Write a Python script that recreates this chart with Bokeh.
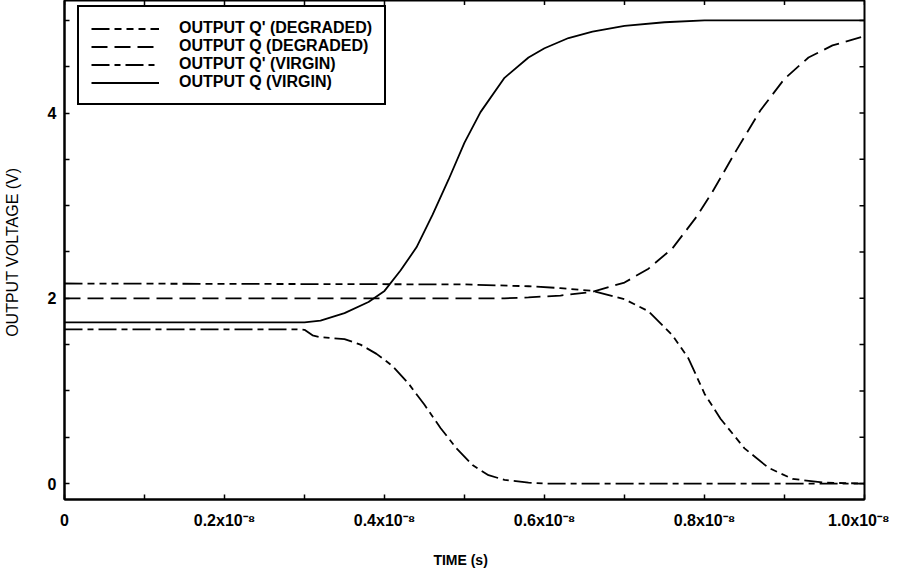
import math
from bokeh.plotting import figure
from bokeh.models import FixedTicker, Legend, LegendItem, Range1d
from bokeh.embed import file_html
from bokeh.resources import INLINE

# ---- data (time in seconds, voltage in volts) ----
t_q_virgin = [0, 0.30e-8, 0.32e-8, 0.35e-8, 0.38e-8, 0.40e-8, 0.42e-8, 0.44e-8, 0.46e-8,
              0.48e-8, 0.50e-8, 0.52e-8, 0.55e-8, 0.58e-8, 0.60e-8, 0.63e-8, 0.66e-8,
              0.70e-8, 0.75e-8, 0.80e-8, 0.90e-8, 1.00e-8]
v_q_virgin = [1.74, 1.74, 1.76, 1.84, 1.96, 2.08, 2.30, 2.55, 2.90, 3.28, 3.68, 4.01,
              4.38, 4.60, 4.70, 4.81, 4.88, 4.94, 4.98, 5.00, 5.00, 5.00]

t_qp_virgin = [0, 0.29e-8, 0.30e-8, 0.31e-8, 0.32e-8, 0.35e-8, 0.37e-8, 0.39e-8, 0.41e-8,
               0.43e-8, 0.45e-8, 0.47e-8, 0.49e-8, 0.51e-8, 0.53e-8, 0.55e-8, 0.58e-8,
               0.60e-8, 1.00e-8]
v_qp_virgin = [1.665, 1.665, 1.66, 1.60, 1.58, 1.56, 1.50, 1.40, 1.27, 1.08, 0.85, 0.60,
               0.38, 0.20, 0.09, 0.04, 0.01, 0.0, 0.0]

t_q_degr = [0, 0.55e-8, 0.58e-8, 0.62e-8, 0.66e-8, 0.70e-8, 0.73e-8, 0.76e-8, 0.79e-8,
            0.81e-8, 0.84e-8, 0.87e-8, 0.90e-8, 0.93e-8, 0.96e-8, 1.00e-8]
v_q_degr = [2.0, 2.0, 2.01, 2.03, 2.07, 2.17, 2.32, 2.54, 2.88, 3.15, 3.60, 4.03, 4.37,
            4.60, 4.73, 4.83]

t_qp_degr = [0, 0.50e-8, 0.58e-8, 0.62e-8, 0.66e-8, 0.70e-8, 0.73e-8, 0.76e-8, 0.78e-8,
             0.80e-8, 0.82e-8, 0.85e-8, 0.88e-8, 0.91e-8, 0.95e-8, 1.00e-8]
v_qp_degr = [2.16, 2.15, 2.13, 2.11, 2.08, 1.99, 1.86, 1.60, 1.35, 0.97, 0.70, 0.38, 0.17,
             0.05, 0.01, 0.0]

x_major = [0, 0.2e-8, 0.4e-8, 0.6e-8, 0.8e-8, 1.0e-8]
x_minor = [0.1e-8, 0.3e-8, 0.5e-8, 0.7e-8, 0.9e-8]
x_tick_labels = ["0", "0.2x10\u207b\u2078", "0.4x10\u207b\u2078", "0.6x10\u207b\u2078",
                 "0.8x10\u207b\u2078", "1.0x10\u207b\u2078"]
x_all_ticks = [0, 0.1e-8, 0.2e-8, 0.3e-8, 0.4e-8, 0.5e-8, 0.6e-8, 0.7e-8, 0.8e-8, 0.9e-8, 1.0e-8]
y_major = [0, 2, 4]
y_minor = [0.5, 1, 1.5, 2.5, 3, 3.5, 4.5, 5]
y_all_ticks = [0, 0.5, 1, 1.5, 2, 2.5, 3, 3.5, 4, 4.5, 5]

labels = ["OUTPUT Q' (DEGRADED)", "OUTPUT Q (DEGRADED)", "OUTPUT Q' (VIRGIN)", "OUTPUT Q (VIRGIN)"]

FONT = "Liberation Sans"
X_END = 1.0e-8
Y_START, Y_END = -0.172, 5.215

p = figure(width=889, height=570, output_backend="svg", toolbar_location=None,
           x_range=Range1d(0, X_END), y_range=Range1d(Y_START, Y_END),
           min_border_left=64, min_border_right=25, min_border_top=0, min_border_bottom=69)
p.background_fill_color = "white"
p.border_fill_color = "white"
p.grid.visible = False
p.outline_line_color = "black"
p.outline_line_alpha = 1.0
p.outline_line_width = 2

lw = 1.8
r1 = p.line(t_qp_degr, v_qp_degr, line_color="black", line_width=lw, line_dash="18 5 7 5 7 5 7 5")
r2 = p.line(t_q_degr, v_q_degr, line_color="black", line_width=lw, line_dash="16 7")
r3 = p.line(t_qp_virgin, v_qp_virgin, line_color="black", line_width=lw, line_dash="18 5 6 5")
r4 = p.line(t_q_virgin, v_q_virgin, line_color="black", line_width=lw)

# mirrored inward tick marks on top and right edges (half of each marker is clipped by the frame)
p.scatter(x_all_ticks, [Y_END] * len(x_all_ticks), marker="dash", size=9,
          angle=math.pi / 2, line_color="black", line_width=1.5)
p.scatter([X_END] * len(y_all_ticks), y_all_ticks, marker="dash", size=10,
          line_color="black", line_width=1.5)

# bottom axis
xa = p.xaxis[0]
xa.ticker = FixedTicker(ticks=x_major, minor_ticks=x_minor)
xa.major_label_overrides = {x: l for x, l in zip(x_major, x_tick_labels)}
xa.axis_label = "TIME   (s)"
xa.axis_line_width = 2
xa.axis_line_color = "black"
xa.major_tick_in = 5
xa.major_tick_out = 0
xa.minor_tick_in = 5
xa.minor_tick_out = 0
xa.major_tick_line_color = "black"
xa.minor_tick_line_color = "black"
xa.major_tick_line_width = 1.5
xa.minor_tick_line_width = 1.5
xa.major_label_text_font = FONT
xa.major_label_text_font_style = "bold"
xa.major_label_text_font_size = "16px"
xa.major_label_text_color = "black"
xa.major_label_standoff = 12
xa.axis_label_text_font = FONT
xa.axis_label_text_font_style = "bold"
xa.axis_label_text_font_size = "14px"
xa.axis_label_text_color = "black"
xa.axis_label_standoff = 20

ya = p.yaxis[0]
ya.ticker = FixedTicker(ticks=y_major, minor_ticks=y_minor)
ya.axis_label = "OUTPUT VOLTAGE  (V)"
ya.axis_line_width = 2
ya.axis_line_color = "black"
ya.major_tick_in = 5
ya.major_tick_out = 0
ya.minor_tick_in = 5
ya.minor_tick_out = 0
ya.major_tick_line_color = "black"
ya.minor_tick_line_color = "black"
ya.major_tick_line_width = 1.5
ya.minor_tick_line_width = 1.5
ya.major_label_text_font = FONT
ya.major_label_text_font_style = "bold"
ya.major_label_text_font_size = "16px"
ya.major_label_text_color = "black"
ya.major_label_standoff = 8
ya.axis_label_text_font = FONT
ya.axis_label_text_font_style = "normal"
ya.axis_label_text_font_size = "16px"
ya.axis_label_text_color = "black"
ya.axis_label_standoff = 24

legend = Legend(items=[LegendItem(label=labels[0], renderers=[r1]),
                       LegendItem(label=labels[1], renderers=[r2]),
                       LegendItem(label=labels[2], renderers=[r3]),
                       LegendItem(label=labels[3], renderers=[r4])],
                location=(13, 394))
legend.margin = 0
legend.padding = 12
legend.spacing = 0
legend.glyph_width = 68
legend.glyph_height = 15
legend.label_height = 15
legend.label_standoff = 20
legend.label_text_font = FONT
legend.label_text_font_style = "bold"
legend.label_text_font_size = "16px"
legend.label_text_color = "black"
legend.border_line_color = "black"
legend.border_line_alpha = 1.0
legend.border_line_width = 2
legend.background_fill_color = "white"
legend.background_fill_alpha = 1.0
p.add_layout(legend)

open("out.html", "w").write(file_html(p, INLINE))
